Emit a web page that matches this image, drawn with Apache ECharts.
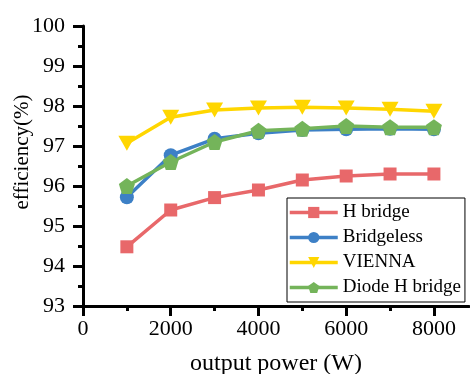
<!DOCTYPE html>
<html>
<head>
<meta charset="utf-8">
<script src="https://cdn.jsdelivr.net/npm/echarts@6/dist/echarts.min.js"></script>
<style>
    html, body { margin: 0; padding: 0; background: #fff; }
    #main { width: 470px; height: 374px; }
</style>
</head>
<body>
<div id="main"></div>
<script>
// 数据
var power = [1000, 2000, 3000, 4000, 5000, 6000, 7000, 8000]
var hBridge = [94.48, 95.4, 95.71, 95.9, 96.15, 96.25, 96.3, 96.3]
var bridgeless = [95.72, 96.77, 97.18, 97.32, 97.4, 97.42, 97.43, 97.42]
var vienna = [97.07, 97.72, 97.9, 97.95, 97.97, 97.95, 97.92, 97.87]
var diodeH = [96.0, 96.6, 97.1, 97.38, 97.43, 97.5, 97.47, 97.47]
var names = ['H bridge', 'Bridgeless', 'VIENNA', 'Diode H bridge']
var xMajor = [0, 2000, 4000, 6000, 8000]
var xMinor = [1000, 3000, 5000, 7000]

var font = 'Liberation Serif'

function pairs(ys) {
    var rs = []
    for (var i = 0; i < power.length; i++) {
        rs.push([power[i], ys[i]])
    }
    return rs
}

function line(name, ys, color, symbol, size) {
    return {
        name: name,
        type: 'line',
        data: pairs(ys),
        symbol: symbol,
        symbolSize: size,
        showAllSymbol: true,
        lineStyle: { color: color, width: 3.5 },
        itemStyle: { color: color },
        emphasis: { disabled: true }
    }
}

var myChart = echarts.init(document.getElementById('main'))
myChart.setOption({
    animation: false,
    grid: { left: 83, top: 26, right: 1, bottom: 68, outerBoundsMode: 'none', containLabel: false },
    legend: {
        orient: 'vertical',
        left: 287,
        top: 198,
        data: names,
        itemWidth: 48,
        itemHeight: 14,
        itemGap: 6,
        itemTextGap: 3,
        padding: [5, 4, 5, 1],
        borderColor: '#000',
        borderWidth: 1,
        lineStyle: { width: 3.5 },
        textStyle: { fontFamily: font, fontSize: 19, color: '#000' }
    },
    xAxis: [{
        type: 'value',
        min: 0,
        max: 8800,
        name: 'output power (W)',
        nameLocation: 'middle',
        nameGap: 46,
        nameMoveOverlap: false,
        nameTextStyle: { fontFamily: font, fontSize: 24, color: '#000' },
        axisLine: { lineStyle: { color: '#000', width: 3 } },
        axisTick: { customValues: xMajor, length: 10, lineStyle: { color: '#000', width: 3 } },
        axisLabel: {
            customValues: xMajor, margin: 12, fontFamily: font, fontSize: 22, color: '#000',
            formatter: function(v) { return String(v) }
        },
        splitLine: { show: false }
    }, {
        type: 'value',
        min: 0,
        max: 8800,
        position: 'bottom',
        axisLine: { show: false },
        axisTick: { customValues: xMinor, length: 5, lineStyle: { color: '#000', width: 3 } },
        axisLabel: { show: false },
        splitLine: { show: false }
    }],
    yAxis: {
        type: 'value',
        min: 93,
        max: 100,
        interval: 1,
        name: 'efficiency(%)',
        nameLocation: 'middle',
        nameGap: 50,
        nameMoveOverlap: false,
        nameTextStyle: { fontFamily: font, fontSize: 21, color: '#000', padding: [0, 0, 0, 28] },
        axisLine: { show: true, lineStyle: { color: '#000', width: 3 } },
        axisTick: { show: true, length: 10, lineStyle: { color: '#000', width: 3 } },
        minorTick: { show: true, splitNumber: 2, length: 5, lineStyle: { color: '#000', width: 3 } },
        axisLabel: { margin: 18, fontFamily: font, fontSize: 22, color: '#000' },
        splitLine: { show: false }
    },
    series: [
        line(names[0], hBridge, '#E8686A', 'rect', 13),
        line(names[1], bridgeless, '#3D80C6', 'circle', 14),
        line(names[2], vienna, '#FFD600', 'path://M0,0 L100,0 L50,85 Z', [17, 15]),
        line(names[3], diodeH, '#74B45A', 'path://M50,0 L100,37 L81,100 L19,100 L0,37 Z', 16)
    ]
})
</script>
</body>
</html>
